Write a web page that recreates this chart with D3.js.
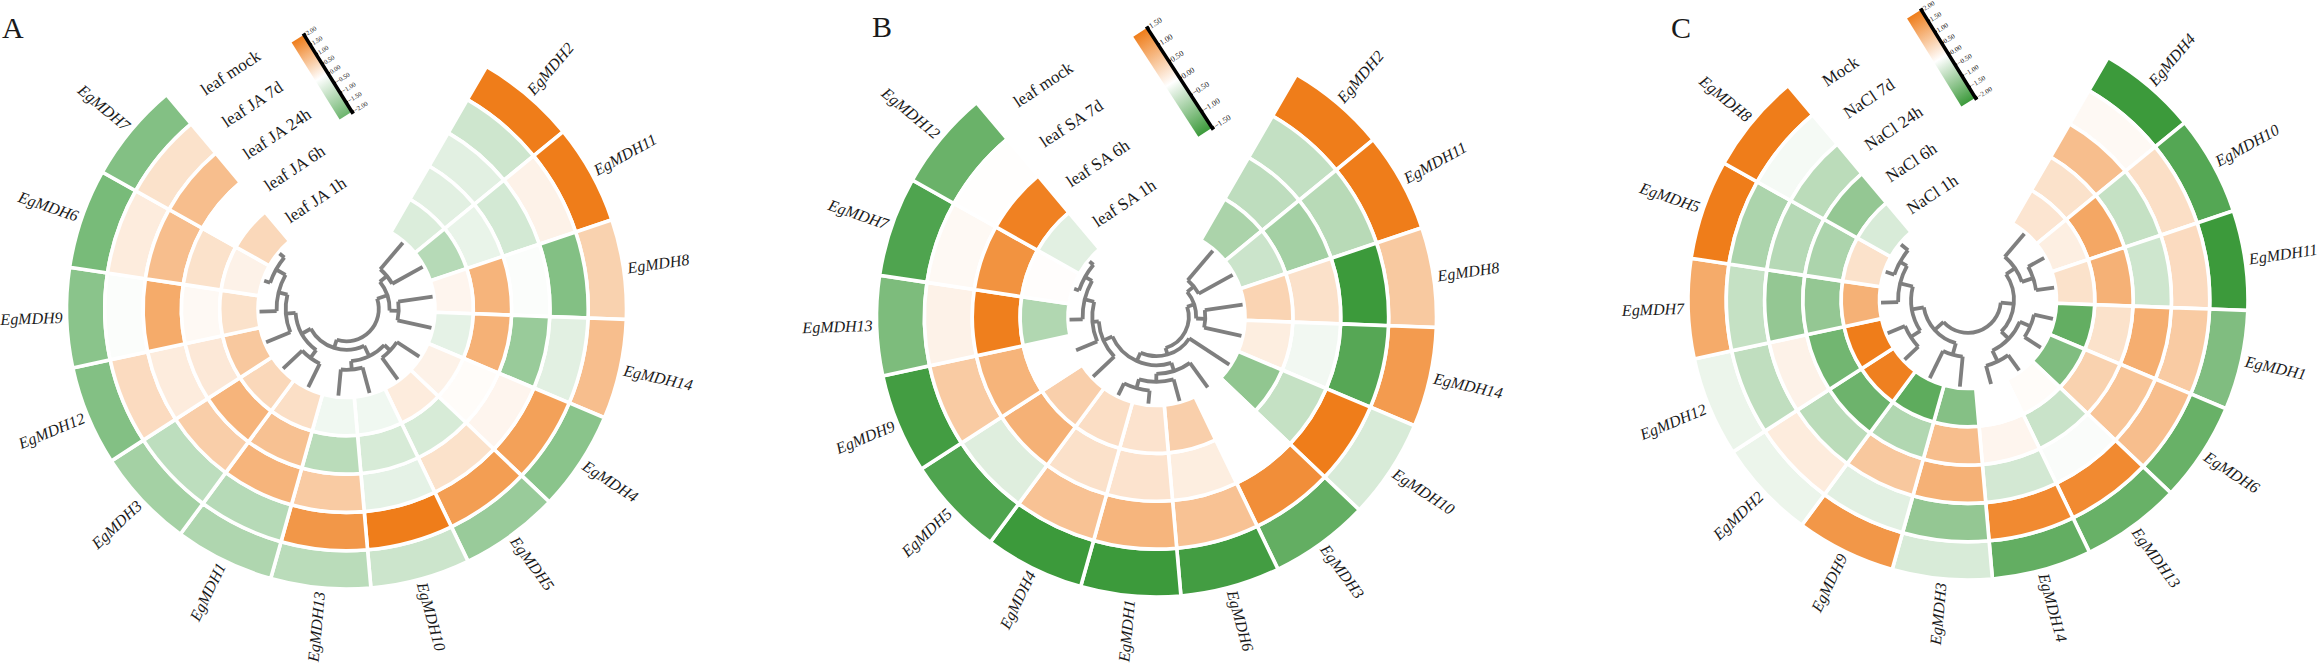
<!DOCTYPE html>
<html><head><meta charset="utf-8">
<script src="https://cdn.jsdelivr.net/npm/d3@7"></script>
<style>html,body{margin:0;padding:0;background:#fff}svg{display:block}text{font-family:"Liberation Serif",serif;fill:#1a1a1a}</style>
</head><body><svg id="c" width="2319" height="668"></svg>
<script>
// ---------- data ----------
const genesA=["EgMDH2","EgMDH11","EgMDH8","EgMDH14","EgMDH4","EgMDH5","EgMDH10","EgMDH13","EgMDH1","EgMDH3","EgMDH12","EgMDH9","EgMDH6","EgMDH7"];
const genesB=["EgMDH2","EgMDH11","EgMDH8","EgMDH14","EgMDH10","EgMDH3","EgMDH6","EgMDH1","EgMDH4","EgMDH5","EgMDH9","EgMDH13","EgMDH7","EgMDH12"];
const genesC=["EgMDH4","EgMDH10","EgMDH11","EgMDH1","EgMDH6","EgMDH13","EgMDH14","EgMDH3","EgMDH9","EgMDH2","EgMDH12","EgMDH7","EgMDH5","EgMDH8"];
const tracksA=["leaf mock","leaf JA 7d","leaf JA 24h","leaf JA 6h","leaf JA 1h"];
const tracksB=["leaf mock","leaf SA 7d","leaf SA 6h","leaf SA 1h"];
const tracksC=["Mock","NaCl 7d","NaCl 24h","NaCl 6h","NaCl 1h"];
// one row per gene, one value per track (outer to inner)
const valuesA=[
[2,-.67,-.4,-.4,-.5],[2,.2,-.6,-.3,-1],[.7,-1.7,-.05,1.15,.15],[1,-.4,-1.4,1.2,-.35],
[-1.6,1.45,.15,.05,.2],[-1.4,1.5,.45,-.55,.3],[-.7,2,-.35,-.55,-.2],[-.95,1.6,.8,-.95,-.2],
[-1.1,-1,1.15,.95,.5],[-1.25,-.9,.75,1.15,.6],[-1.7,.55,.3,.35,.85],[-1.6,-.05,1.3,.1,.45],
[-1.85,.3,1,.45,.2],[-1.7,.45,1,0,.6]];
const valuesB=[
[1.5,-.46,-.5,-.65],[1.5,-.55,-.7,-.4],[.62,-1.5,.35,.5],[1.15,-1.3,-.1,.2],
[-.3,1.5,-.45,-.85],[-1.2,1.3,0,0],[-1.45,.7,.2,.55],[-1.5,.85,.32,.32],
[-1.5,.7,.35,.38],[-1.35,-.25,.9,.55],[-1.45,.6,.87,0],[-1,.15,1.48,-.6],
[-1.35,.07,1.25,.02],[-1.15,.01,1.45,-.22]];
const valuesC=[
[-2,.1,1,.45,.4],[-1.75,.5,-.6,1.35,.25],[-2,.55,-.5,1.2,.45],[-1.3,.8,1.25,.45,-1.6],
[-1.55,1,.9,.7,-1.3],[-1.55,1.8,-.05,-.55,.05],[-1.6,1.8,-.45,.15,0],[-.4,-1.1,1.2,1,-1.25],
[1.6,-.3,.85,-.8,-1.65],[-.2,.3,-.7,-1.5,1.95],[-.2,-.65,.2,-1.45,2],[1.3,-.6,-1.1,-1.1,1.2],
[2,-.85,-.75,-.85,.45],[2,-.1,-.7,-1.1,-.4]];
// dendrograms: [height, child, child]; a leaf is a gene name
const treeA=[96,
 [77,[61,"EgMDH2","EgMDH11"],[61,"EgMDH8","EgMDH14"]],
 [81,[61,[47,"EgMDH4","EgMDH5"],[46,"EgMDH10","EgMDH13"]],
     [63,[46,"EgMDH1","EgMDH3"],[46,"EgMDH12",[30,"EgMDH9",[11,"EgMDH6","EgMDH7"]]]]]];
const treeB=[96,
 [83,[68,"EgMDH2","EgMDH11"],[67,"EgMDH8","EgMDH14"]],
 [84,"EgMDH10",[68,[53,"EgMDH3",[39,"EgMDH6",[23,"EgMDH1","EgMDH4"]]],
     [51,"EgMDH5",[40,"EgMDH9",[23,"EgMDH13",[9,"EgMDH7","EgMDH12"]]]]]]];
const treeC=[95,
 [72,[53,"EgMDH4",[32,"EgMDH10","EgMDH11"]],[54,[34,"EgMDH1","EgMDH6"],[33,"EgMDH13","EgMDH14"]]],
 [74,[53,"EgMDH3","EgMDH9"],[53,[33,"EgMDH2","EgMDH12"],[30,"EgMDH7",[16,"EgMDH5","EgMDH8"]]]]];
const ticksA=[2,1.5,1,.5,0,-.5,-1,-1.5,-2];
const ticksB=[1.5,1,.5,0,-.5,-1,-1.5];
const ticksC=[2,1.5,1,.5,0,-.5,-1,-1.5,-2];

// ---------- layout ----------
const panels=[
 {letter:"A",lx:2,ly:38,cx:346.5,cy:309,genes:genesA,tracks:tracksA,values:valuesA,tree:treeA,max:2,ticks:ticksA,green:"#6db56e",
  bar:[303.5,35,351.5,112],barW:14,tickFs:6.5},
 {letter:"B",lx:872,ly:37,cx:1156.5,cy:317,genes:genesB,tracks:tracksB,values:valuesB,tree:treeB,max:1.5,ticks:ticksB,green:"#3c9a3b",
  bar:[1146.7,28,1211.7,128],barW:16,tickFs:8},
 {letter:"C",lx:1671,ly:38,cx:1968,cy:300,genes:genesC,tracks:tracksC,values:valuesC,tree:treeC,max:2,ticks:ticksC,green:"#3c9a3b",
  bar:[1920.7,10,1975,98],barW:16,tickFs:7}];
const rad=d=>d*Math.PI/180, START=30, SWEEP=290, R0=88.5, R1=280, LEAF=87, ROOT=30;
const svg=d3.select("#c");
const defs=svg.append("defs");

panels.forEach((p,pi)=>{
 const color=d3.scaleLinear().domain([-p.max,0,p.max]).range([p.green,"#ffffff","#ef7d1a"]);
 const g=svg.append("g").attr("transform",`translate(${p.cx},${p.cy})`);
 const ang=d3.scaleBand().domain(p.genes).range([rad(START),rad(START+SWEEP)]);
 const rr=d3.scaleBand().domain(p.tracks.slice().reverse()).range([R0,R1]);
 const arc=d3.arc();
 // heat cells
 p.genes.forEach((gene,i)=>{
  p.tracks.forEach((t,j)=>{
   g.append("path").attr("d",arc({innerRadius:rr(t),outerRadius:rr(t)+rr.bandwidth(),startAngle:ang(gene),endAngle:ang(gene)+ang.bandwidth()}))
    .attr("fill",color(p.values[i][j])).attr("stroke","#fff").attr("stroke-width",3.6);
  });
  // gene label
  const a=(ang(gene)+ang.bandwidth()/2)*180/Math.PI, flip=a>180;
  g.append("text").attr("transform",`rotate(${a-90}) translate(284,0)`+(flip?" rotate(180)":""))
   .attr("text-anchor",flip?"end":"start").attr("dy","0.32em").attr("font-style","italic").attr("font-size",16).text(gene);
 });
 // track labels
 p.tracks.forEach(t=>{
  const r=rr(t)+rr.bandwidth()/2, a=rad(-33.5);
  g.append("text").attr("transform",`translate(${r*Math.sin(a)},${-r*Math.cos(a)}) rotate(-33.5)`)
   .attr("dy","0.32em").attr("font-size",17).text(t);
 });
 // dendrogram
 const root=d3.hierarchy(p.tree,d=>Array.isArray(d)?d.slice(1):null);
 const rH=d3.scaleLinear().domain([0,100]).range([LEAF,ROOT]);
 root.eachAfter(n=>{
  if(n.children){n.a=d3.mean(n.children,c=>c.a);n.r=rH(n.data[0]);}
  else{n.a=ang(n.data)+ang.bandwidth()/2;n.r=LEAF;}
 });
 const lr=d3.lineRadial().angle(d=>d[0]).radius(d=>d[1]);
 const dg=g.append("g").attr("fill","none").attr("stroke","#7f7f7f").attr("stroke-width",3.8);
 root.descendants().forEach(n=>{
  if(!n.children)return;
  const as=n.children.map(c=>c.a);
  dg.append("path").attr("stroke-linecap","square").attr("d",d3.arc()({innerRadius:n.r,outerRadius:n.r,startAngle:d3.min(as),endAngle:d3.max(as)}));
  n.children.forEach(c=>dg.append("path").attr("d",lr([[c.a,n.r],[c.a,c.r]])));
 });
 // colour bar
 const [x0,y0,x1,y1]=p.bar, L=Math.hypot(x1-x0,y1-y0), rot=Math.atan2(y1-y0,x1-x0)*180/Math.PI-90;
 const grad=defs.append("linearGradient").attr("id","g"+pi).attr("x1",0).attr("x2",0).attr("y1",0).attr("y2",1);
 d3.range(0,1.0001,.5).forEach(o=>grad.append("stop").attr("offset",o).attr("stop-color",color(p.max*(1-2*o))));
 const b=svg.append("g").attr("transform",`translate(${x0},${y0}) rotate(${rot})`);
 const y=d3.scaleLinear().domain([p.max,-p.max]).range([0,L]);
 b.append("rect").attr("x",-p.barW).attr("y",0).attr("width",p.barW).attr("height",L).attr("fill",`url(#g${pi})`);
 const ax=d3.axisRight(y).tickValues(p.ticks).tickSize(2.5).tickFormat(d3.format(".2f"));
 const ag=b.append("g").call(ax);
 ag.select(".domain").attr("stroke","#000").attr("stroke-width",3.6);
 ag.selectAll(".tick line").attr("stroke","#000").attr("stroke-width",2);
 ag.selectAll(".tick text").attr("font-size",p.tickFs).attr("x",3).attr("font-family",'"Liberation Serif",serif').attr("fill","#1a1a1a");
 // panel letter
 svg.append("text").attr("x",p.lx).attr("y",p.ly).attr("font-size",30).text(p.letter);
});
</script></body></html>
